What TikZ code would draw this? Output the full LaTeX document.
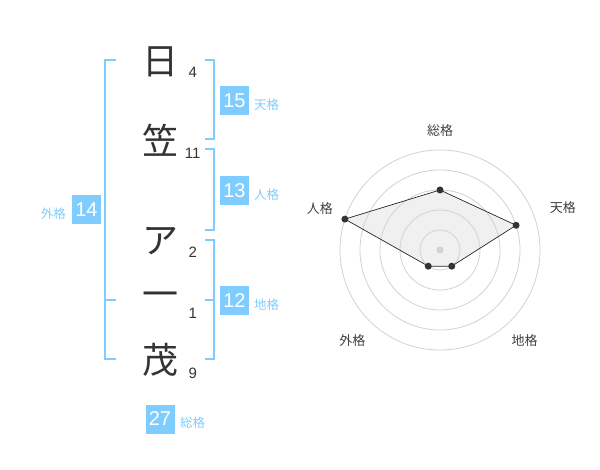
\documentclass[tikz,border=0pt]{standalone}
\usepackage{fontspec}
\setmainfont{Liberation Sans}
\newfontfamily\jpfont{Noto Sans CJK JP}
\definecolor{kakublue}{RGB}{127,204,255}
\definecolor{inkgray}{RGB}{51,51,51}
\definecolor{ringgray}{RGB}{210,210,210}
\tikzset{
  kanji/.style={text=inkgray, inner sep=0pt, font=\jpfont\fontsize{36}{36}\selectfont},
  strokes/.style={text=inkgray, inner sep=0pt, font=\fontsize{15}{15}\selectfont},
  kakubox/.style={fill=kakublue, text=white, minimum size=29pt, inner sep=0pt, font=\fontsize{20}{20}\selectfont},
  kakulabel/.style={text=kakublue, inner sep=0pt, font=\jpfont\fontsize{12.5}{12.5}\selectfont},
  bracket/.style={draw=kakublue, line width=2pt},
  axislabel/.style={text=black!75, inner sep=0pt, font=\jpfont\fontsize{13}{13}\selectfont}
}
\begin{document}
\begin{tikzpicture}[x=1pt, y=-1pt]
  \useasboundingbox (0,0) rectangle (600,470);
  % Name and stroke counts
  \foreach \ch/\n/\cy/\ny [count=\i] in {日/4/61.5/72.2, 笠/11/140/153.3, ア/2/241.5/252.3, 一/1/299.5/313.3, 茂/9/360/373.3} {
    \node[kanji] (ch\i) at (160,\cy) {\ch};
    \node[strokes] (n\i) at (192.7,\ny) {\n};
  }
  % Brackets
  \draw[bracket] (116,60) -- (105,60) -- (105,359.5) -- (116,359.5);
  \draw[bracket] (105,300) -- (116,300);
  \draw[bracket] (205,60) -- (214,60) -- (214,139.5) -- (205,139.5);
  \draw[bracket] (205,149.5) -- (214,149.5) -- (214,230) -- (205,230);
  \draw[bracket] (205,240) -- (214,240) -- (214,359.5) -- (205,359.5);
  \draw[bracket] (205,300) -- (214,300);
  % Boxes
  \node[kakubox] (ten) at (234.5,100.5) {15};
  \node[kakulabel, anchor=west] (tenl) at (254,104.5) {天格};
  \node[kakubox] (jin) at (234.5,190.5) {13};
  \node[kakulabel, anchor=west] (jinl) at (254,194.5) {人格};
  \node[kakubox] (chi) at (234.5,300.5) {12};
  \node[kakulabel, anchor=west] (chil) at (254,304.5) {地格};
  \node[kakubox] (gai) at (86.5,210) {14};
  \node[kakulabel, anchor=east] (gail) at (66,214) {外格};
  \node[kakubox] (sou) at (160,419) {27};
  \node[kakulabel, anchor=west] (soul) at (180,422.5) {総格};
  % Radar
  \begin{scope}[shift={(440,250)}, y=1pt]
    \coordinate (psou) at (90:60);
    \coordinate (pten) at (18:80);
    \coordinate (pchi) at (-54:20);
    \coordinate (pgai) at (-126:20);
    \coordinate (pjin) at (162:100);
    \fill[black!6] (psou) -- (pten) -- (pchi) -- (pgai) -- (pjin) -- cycle;
    \foreach \r in {20,40,60,80,100} {
      \draw[ringgray, line width=0.8pt] (0,0) circle (\r);
    }
    \node[axislabel] (lsou) at (90:119) {総格};
    \node[axislabel] (lten) at (19:130) {天格};
    \node[axislabel] (lchi) at (-47:124) {地格};
    \node[axislabel] (lgai) at (-134:126) {外格};
    \node[axislabel] (ljin) at (161:127) {人格};
    \draw[black!85, line width=0.7pt] (psou) -- (pten) -- (pchi) -- (pgai) -- (pjin) -- cycle;
    \fill[ringgray] (0,0) circle (3.5);
    \foreach \p in {psou,pten,pchi,pgai,pjin} {
      \fill[inkgray] (\p) circle (3.5);
    }
  \end{scope}
\end{tikzpicture}
\end{document}
